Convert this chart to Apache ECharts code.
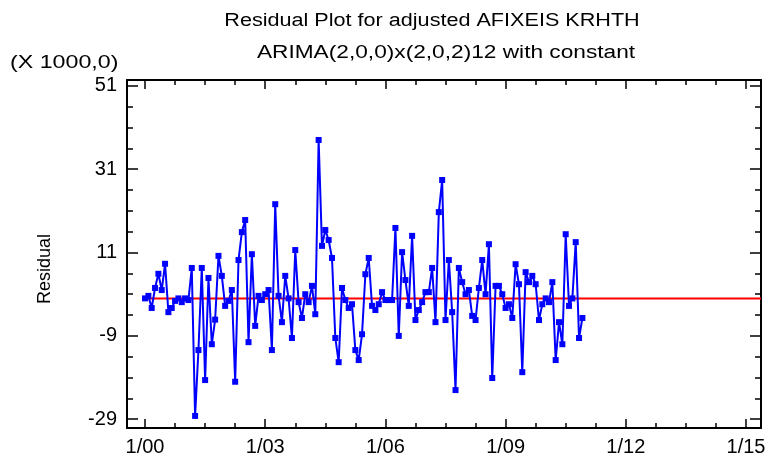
<!DOCTYPE html>
<html>
<head>
<meta charset="utf-8">
<script src="https://cdn.jsdelivr.net/npm/echarts@6/dist/echarts.min.js"></script>
<style>
html,body{margin:0;padding:0;background:#fff;}
#chart{width:769px;height:466px;}
</style>
</head>
<body>
<div id="chart"></div>
<script>
// Residuals (x 1000), monthly from 1/2000 to 12/2010
const residuals = [
  0, 0.6, -2.3, 2.5, 5.9, 2.0, 8.3, -3.3, -2.3, -0.6, 0, -0.9,
  0, -0.4, 7.3, -28.2, -12.4, 7.3, -19.6, 4.9, -11, -5.1, 10.2, 5.4,
  -1.8, -0.6, 2, -20, 9.2, 15.9, 18.8, -10.5, 10.6, -6.6, 0.6, -0.4,
  1.0, 2, -12.4, 22.6, 0.6, -5.7, 5.4, 0, -9.5, 11.6, -0.9, -4.7,
  1.0, -0.9, 3.0, -3.8, 38, 12.6, 16.4, 14, 9.7, -9.5, -15.3, 2.5,
  -0.4, -2.3, -1.4, -12.4, -14.8, -8.6, 5.8, 9.7, -1.8, -2.8, -1.4, 1.5,
  -0.4, -0.4, -0.4, 16.9, -9, 11.1, 4.4, -1.8, 15, -5.2, -2.8, -0.9,
  1.5, 1.5, 7.3, -5.7, 20.7, 28.4, -5.2, 9.2, -3.3, -22, 7.3, 3.9,
  1.0, 2.0, -4.2, -5.2, 2.5, 9.2, 1.0, 13, -19.1, 3.0, 3.0, 1.0,
  -2.3, -1.4, -4.7, 8.2, 3.4, -17.7, 6.3, 3.9, 5.4, 3.4, -5.2, -1.4,
  0, -0.9, 3.9, -14.8, -5.7, -11, 15.4, -1.8, 0, 13.5, -9.5, -4.7
];
// month index 0 = 1/00
const xTickValues = [0, 36, 72, 108, 144, 180];
const xTickLabels = ['1/00', '1/03', '1/06', '1/09', '1/12', '1/15'];
const xMinorValues = [9, 18, 27, 45, 54, 63, 81, 90, 99, 117, 126, 135, 153, 162, 171];
const yTickValues = [-29, -9, 11, 31, 51];
const yMinorValues = [-24, -19, -14, -4, 1, 6, 16, 21, 26, 36, 41, 46];
const refValue = 0;
const refLineX = [0, 184.5];

const X_MIN = -5.4, X_MAX = 184.5, Y_MIN = -31.1, Y_MAX = 52.4;

const chart = echarts.init(document.getElementById('chart'));
const FONT = '"Liberation Sans", Arial, sans-serif';

function xAx(pos, major, withLabel) {
  return {
    type: 'value', position: pos, min: X_MIN, max: X_MAX,
    axisLine: { show: major, onZero: false, lineStyle: { color: '#000', width: 2 } },
    axisTick: { show: true, inside: true, length: major ? 9 : 5,
      customValues: major ? xTickValues : xMinorValues,
      lineStyle: { color: '#000', width: 1.5 } },
    axisLabel: { show: withLabel, customValues: xTickValues,
      formatter: v => xTickLabels[xTickValues.indexOf(v)] || '',
      fontFamily: FONT, fontSize: 20, color: '#000', margin: 9 },
    splitLine: { show: false }
  };
}
function yAx(pos, major, withLabel) {
  return {
    type: 'value', position: pos, min: Y_MIN, max: Y_MAX,
    axisLine: { show: major, onZero: false, lineStyle: { color: '#000', width: 2 } },
    axisTick: { show: true, inside: true, length: major ? 11 : 6,
      customValues: major ? yTickValues : yMinorValues,
      lineStyle: { color: '#000', width: 1.5 } },
    axisLabel: { show: withLabel, customValues: yTickValues,
      fontFamily: FONT, fontSize: 20, color: '#000', margin: 10 },
    splitLine: { show: false }
  };
}

chart.setOption({
  animation: false,
  backgroundColor: '#fff',
  graphic: [
    { type: 'text', x: 432, y: 21, scaleX: 1.2,
      style: { text: 'Residual Plot for adjusted AFIXEIS KRHTH', font: '18px ' + FONT, fill: '#000', align: 'center', verticalAlign: 'middle' } },
    { type: 'text', x: 446, y: 53, scaleX: 1.26,
      style: { text: 'ARIMA(2,0,0)x(2,0,2)12 with constant', font: '18px ' + FONT, fill: '#000', align: 'center', verticalAlign: 'middle' } },
    { type: 'text', x: 10, y: 63, scaleX: 1.29,
      style: { text: '(X 1000,0)', font: '18px ' + FONT, fill: '#000', align: 'left', verticalAlign: 'middle' } },
    { type: 'text', x: 45, y: 269, rotation: Math.PI / 2,
      style: { text: 'Residual', font: '18px ' + FONT, fill: '#000', align: 'center', verticalAlign: 'middle' } }
  ],
  grid: { left: 127, right: 8, top: 80, bottom: 38, containLabel: false },
  xAxis: [xAx('bottom', true, true), xAx('bottom', false, false), xAx('top', true, false), xAx('top', false, false)],
  yAxis: [yAx('left', true, true), yAx('left', false, false), yAx('right', true, false), yAx('right', false, false)],
  series: [
    {
      type: 'line', xAxisIndex: 0, yAxisIndex: 0,
      data: refLineX.map(x => [x, refValue]),
      symbol: 'none', lineStyle: { color: '#ff0000', width: 2 }, z: 1
    },
    {
      type: 'line', xAxisIndex: 0, yAxisIndex: 0,
      data: residuals.map((v, i) => [i, v]),
      symbol: 'rect', symbolSize: 6,
      itemStyle: { color: '#0000ff' },
      lineStyle: { color: '#0000ff', width: 2 }, z: 2
    }
  ]
});
</script>
</body>
</html>
